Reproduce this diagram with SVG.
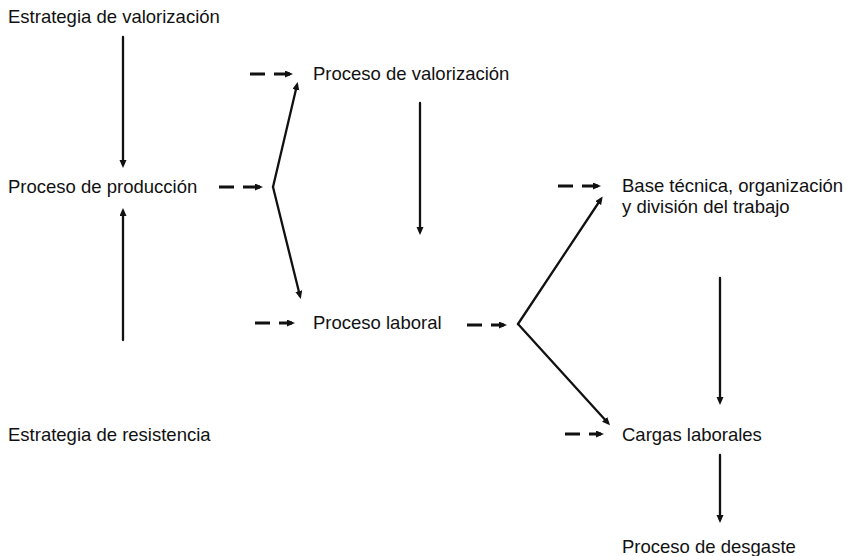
<svg xmlns="http://www.w3.org/2000/svg" width="850" height="556" viewBox="0 0 850 556">
<style>
text{font-family:"Liberation Sans",Arial,Helvetica,sans-serif;font-size:18.5px;fill:#111}
.s{stroke:#111;stroke-width:2.3;fill:none;stroke-linecap:round;marker-end:url(#ah)}
.d{stroke:#111;stroke-width:3;fill:none;stroke-dasharray:15 9 40;marker-end:url(#ah)}
</style>
<defs>
<marker id="ah" markerUnits="userSpaceOnUse" markerWidth="10" markerHeight="8" refX="5" refY="3.5" orient="auto">
<path d="M0,0 L8,3.5 L0,7 z" fill="#111"/>
</marker>
</defs>
<rect width="850" height="556" fill="#fff"/>
<g id="connectors">
<line class="s" x1="123" y1="37" x2="123" y2="165"/>
<line class="s" x1="123" y1="340" x2="123" y2="211"/>
<line class="d" x1="219" y1="187" x2="260" y2="187"/>
<line class="s" x1="273" y1="187" x2="297" y2="85"/>
<line class="s" x1="273" y1="187" x2="300" y2="296"/>
<line class="d" x1="250" y1="74" x2="290" y2="74"/>
<line class="s" x1="420" y1="103" x2="420" y2="232"/>
<line class="d" x1="255" y1="323" x2="292" y2="323"/>
<line class="d" x1="467" y1="325" x2="504" y2="325"/>
<line class="s" x1="518" y1="324" x2="601" y2="199"/>
<line class="s" x1="518" y1="324" x2="608" y2="423"/>
<line class="d" x1="558" y1="186" x2="598" y2="186"/>
<line class="s" x1="720" y1="278" x2="720" y2="402"/>
<line class="d" x1="565" y1="434" x2="601" y2="434"/>
<line class="s" x1="720" y1="455" x2="720" y2="520"/>
</g>
<g id="estrategia-valorizacion"><text x="8" y="23">Estrategia de valorización</text></g>
<g id="proceso-valorizacion"><text x="313" y="80">Proceso de valorización</text></g>
<g id="proceso-produccion"><text x="8" y="193">Proceso de producción</text></g>
<g id="base-tecnica"><text x="622" y="192">Base técnica, organización</text><text x="622" y="213">y división del trabajo</text></g>
<g id="proceso-laboral"><text x="313" y="329">Proceso laboral</text></g>
<g id="estrategia-resistencia"><text x="8" y="441">Estrategia de resistencia</text></g>
<g id="cargas-laborales"><text x="622" y="441">Cargas laborales</text></g>
<g id="proceso-desgaste"><text x="622" y="553">Proceso de desgaste</text></g>
</svg>
